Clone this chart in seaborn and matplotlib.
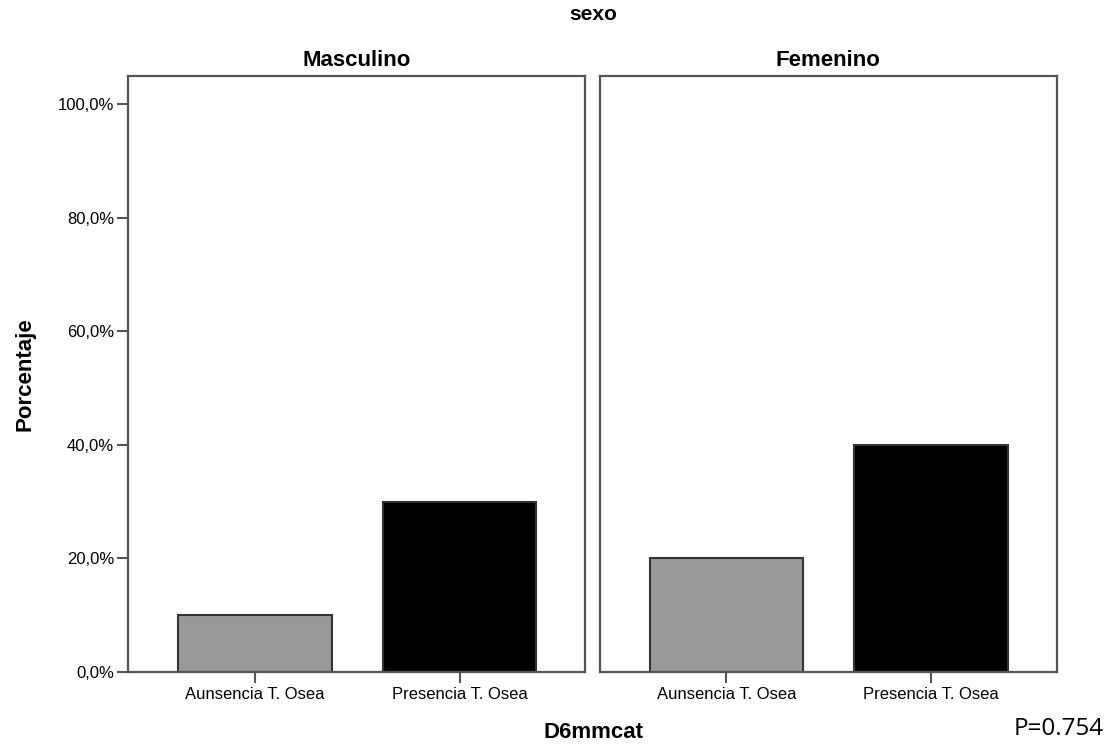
import matplotlib
matplotlib.use("Agg")
import matplotlib.pyplot as plt
import seaborn as sns
import pandas as pd

sexos = ["Masculino", "Femenino"]
categorias = ["Aunsencia T. Osea", "Presencia T. Osea"]
masculino = [10.0, 30.0]
femenino = [20.0, 40.0]
yticks = [0, 20, 40, 60, 80, 100]
colores = ["#999999", "#000000"]

df = pd.DataFrame({
    "sexo": [s for s in sexos for _ in categorias],
    "D6mmcat": categorias * 2,
    "Porcentaje": masculino + femenino,
})

sns.set_theme(style="white")
plt.rcParams["font.family"] = ["Liberation Sans", "DejaVu Sans"]
plt.rcParams["text.color"] = "black"
plt.rcParams["axes.labelcolor"] = "black"
plt.rcParams["xtick.labelcolor"] = "black"
plt.rcParams["ytick.labelcolor"] = "black"

fig, axes = plt.subplots(1, 2, figsize=(11.11, 7.44), dpi=100, sharey=True)
fig.subplots_adjust(left=0.1152, right=0.9514, top=0.8978, bottom=0.0968, wspace=0.031)

for ax, s in zip(axes, sexos):
    sub = df[df["sexo"] == s]
    sns.barplot(data=sub, x="D6mmcat", y="Porcentaje", hue="D6mmcat",
                order=categorias, hue_order=categorias, palette=colores,
                dodge=False, legend=False, width=0.75, ax=ax,
                edgecolor="#333333", linewidth=1.5, errorbar=None)
    ax.set_xlim(-0.62, 1.615)
    ax.set_ylim(0, 105)
    ax.set_title(s, fontsize=16, fontweight="bold", pad=7, color="black")
    ax.set_xlabel("")
    ax.set_ylabel("")
    for sp in ax.spines.values():
        sp.set_visible(True)
        sp.set_color("#555555")
        sp.set_linewidth(1.6)
    ax.tick_params(axis="x", direction="out", length=8, width=1.5, color="#555555",
                   labelsize=12, bottom=True, pad=3)

axes[0].set_yticks(yticks)
axes[0].set_yticklabels([f"{v:.1f}%".replace(".", ",") for v in yticks])
axes[0].tick_params(axis="y", direction="out", length=8, width=1.5, color="#555555",
                    labelsize=12, left=True, pad=2)
axes[1].tick_params(axis="y", left=False, labelleft=False)

fig.text(0.0225, 0.497, "Porcentaje", rotation=90, ha="center", va="center",
         fontsize=16, fontweight="bold")
fig.text(0.534, 0.981, "sexo", ha="center", va="center", fontsize=15, fontweight="bold")
fig.text(0.534, 0.0148, "D6mmcat", ha="center", va="center", fontsize=16, fontweight="bold")
fig.text(0.9935, 0.004, "P=0.754", ha="right", va="bottom", fontsize=17.5,
         family=["Open Sans", "DejaVu Sans"])

fig.savefig("out.png", dpi=100)
